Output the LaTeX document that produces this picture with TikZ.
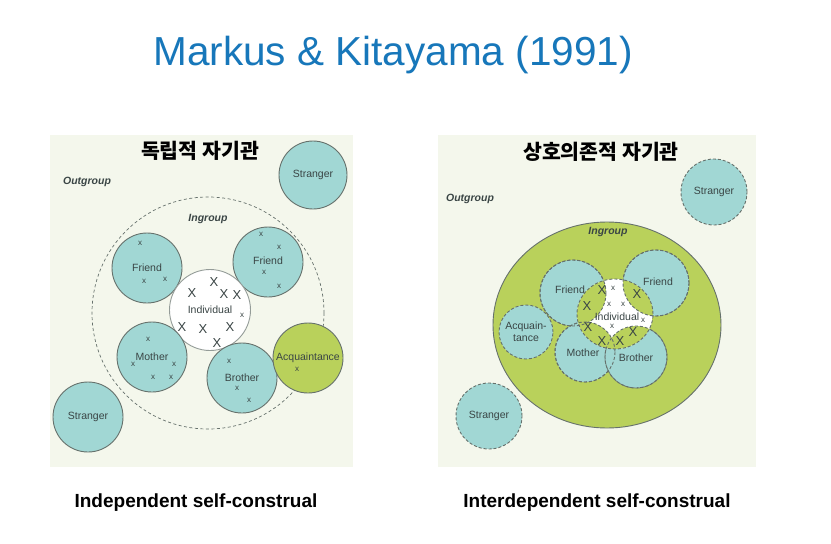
\documentclass[tikz,border=0pt]{standalone}
\usepackage{fontspec}
\setmainfont{Liberation Sans}
\newfontfamily\krfont{Noto Sans CJK KR}
\usetikzlibrary{shapes.geometric}

\definecolor{panelbg}{HTML}{F4F7EC}
\definecolor{tealfill}{HTML}{A1D7D4}
\definecolor{limefill}{HTML}{B9D15B}
\definecolor{rimgrey}{HTML}{66716C}
\definecolor{inkgrey}{HTML}{3A4545}
\definecolor{titleblue}{HTML}{1777BA}

\tikzset{
  disc/.style={circle, draw=rimgrey, line width=0.9pt, inner sep=0pt,
    font=\fontsize{10.5}{12}\selectfont, text=inkgrey},
  tealdisc/.style={disc, fill=tealfill},
  limedisc/.style={disc, fill=limefill},
  rim/.style={draw=rimgrey, line width=0.9pt, dash pattern=on 3pt off 2pt},
  word/.style={inner sep=0pt, font=\fontsize{10.5}{12}\selectfont, text=inkgrey},
  xsmall/.style={inner sep=0pt, font=\fontsize{8}{8}\selectfont, text=inkgrey},
  xbig/.style={inner sep=0pt, font=\fontsize{13}{13}\selectfont, text=inkgrey},
  grouplabel/.style={inner sep=0pt, font=\bfseries\itshape\fontsize{10.5}{12}\selectfont, text=inkgrey},
  krtitle/.style={inner sep=0pt, font=\krfont\bfseries\fontsize{20.5}{22}\selectfont},
  caption/.style={inner sep=0pt, font=\bfseries\fontsize{19}{21}\selectfont},
}

\begin{document}
\begin{tikzpicture}[x=1pt, y=-1pt]
  \useasboundingbox (0,0) rectangle (831,544);
  \fill[white] (0,0) rectangle (831,544);

  % title
  \node[inner sep=0pt, anchor=base, text=titleblue, font=\fontsize{40.5}{44}\selectfont]
    (title) at (393,65) {Markus \& Kitayama (1991)};

  % left panel: independent
  \fill[panelbg] (50,135) rectangle (353,467);
  \node[krtitle] (ltitle) at (200,151) {독립적 자기관};
  \node[grouplabel] (lout) at (87,182) {Outgroup};
  \node[tealdisc, minimum size=68pt] (lstrangerA) at (313,175) {Stranger};
  \node[circle, inner sep=0pt, minimum size=232pt, draw=rimgrey, line width=0.7pt,
    dash pattern=on 3pt off 2.5pt] (lring) at (208,313) {};
  \node[grouplabel] (lin) at (208,219) {Ingroup};
  \node[tealdisc, minimum size=70pt] (lfriendA) at (147,268) {Friend};
  \node[tealdisc, minimum size=70pt] (lfriendB) at (268,262) {};
  \node[word] (lfriendBtext) at (268,261) {Friend};
  \node[disc, fill=white, draw=rimgrey!70, minimum size=81pt] (lself) at (210,310) {Individual};
  \node[tealdisc, minimum size=70pt] (lmother) at (152,357) {Mother};
  \node[tealdisc, minimum size=70pt] (lbrother) at (242,378) {Brother};
  \node[limedisc, minimum size=70pt] (lacq) at (308,358) {Acquaintance};
  \node[tealdisc, minimum size=70pt] (lstrangerB) at (88,417) {Stranger};
  \foreach \p [count=\i] in {(140,243),(144,281),(165,279),(261,234),(279,247),(264,272),
      (279,286),(242,315),(148,339),(133,364),(174,364),(153,377),(171,377),
      (229,361),(237,388),(249,400),(297,369)}
    \node[xsmall] (lx\i) at \p {x};
  \foreach \p [count=\i] in {(214,282),(192,293),(224,294),(237,295),(182,327),
      (203,329),(230,327),(217,343)}
    \node[xbig] (lX\i) at \p {X};

  % right panel: interdependent
  \fill[panelbg] (438,135) rectangle (756,467);
  \node[krtitle] (rtitle) at (601,152) {상호의존적 자기관};
  \node[grouplabel] (rout) at (470,199) {Outgroup};
  \node[tealdisc, rim, minimum size=66pt] (rstrangerA) at (714,192) {Stranger};
  \node[ellipse, fill=limefill, draw=rimgrey, line width=0.9pt, inner sep=0pt,
    minimum width=228pt, minimum height=206pt] (rring) at (607,325) {};
  \node[grouplabel] (rin) at (608,232) {Ingroup};
  \node[tealdisc, rim, minimum size=66pt] (rfriendA) at (573,293) {};
  \node[tealdisc, rim, minimum size=66pt] (rfriendB) at (656,283) {};
  \node[tealdisc, rim, minimum size=54pt, align=center] (racq) at (526,332) {Acquain-\\tance};
  \node[tealdisc, rim, minimum size=60pt] (rmother) at (585,352) {};
  \node[tealdisc, rim, minimum size=62pt] (rbrother) at (636,357) {};
  \begin{scope}
    \clip (615,314) ellipse [x radius=38, y radius=35];
    \fill[white] (615,314) ellipse [x radius=38, y radius=35];
    \fill[limefill] (rfriendA.center) circle (33) (rfriendB.center) circle (33)
      (rmother.center) circle (30) (rbrother.center) circle (31);
  \end{scope}
  \draw[rim] (rfriendA.center) circle (33);
  \draw[rim] (rfriendB.center) circle (33);
  \draw[rim] (rmother.center) circle (30);
  \draw[rim] (rbrother.center) circle (31);
  \node[ellipse, rim, inner sep=0pt, minimum width=76pt, minimum height=70pt] (rself) at (615,314) {};
  \node[word] (rfriendAtext) at (570,290) {Friend};
  \node[word] (rfriendBtext) at (658,282) {Friend};
  \node[word] (rselftext) at (617,317) {Individual};
  \node[word] (rmothertext) at (583,353) {Mother};
  \node[word] (rbrothertext) at (636,358) {Brother};
  \node[tealdisc, rim, minimum size=66pt] (rstrangerB) at (489,416) {Stranger};
  \foreach \p [count=\i] in {(613,288),(609,304),(623,304),(643,320),(612,326)}
    \node[xsmall] (rx\i) at \p {x};
  \foreach \p [count=\i] in {(602,290),(637,294),(587,306),(588,327),(633,332),
      (602,341),(620,341)}
    \node[xbig] (rX\i) at \p {X};

  % captions
  \node[caption] (lcap) at (196,503) {Independent self-construal};
  \node[caption] (rcap) at (597,503) {Interdependent self-construal};
\end{tikzpicture}
\end{document}
